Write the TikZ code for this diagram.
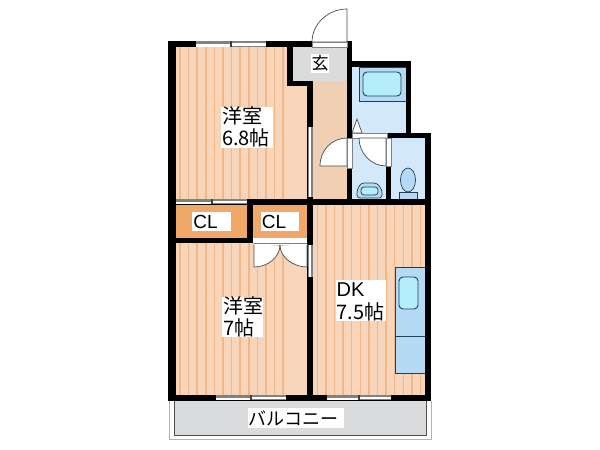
\documentclass[tikz,border=0pt]{standalone}
\usepackage{fontspec}
\setmainfont{Liberation Sans}
\newfontfamily\jpfont{Noto Sans CJK JP}
\definecolor{floorc}{HTML}{F6D5BA}
\definecolor{stripec}{HTML}{F4B685}
\definecolor{hallc}{HTML}{F0CFB2}
\definecolor{closetc}{HTML}{EFA868}
\definecolor{grayc}{HTML}{DADBDD}
\definecolor{bluec}{HTML}{D3E9FA}
\definecolor{tubc}{HTML}{B5DAF5}
\definecolor{cyanc}{HTML}{B5EEFB}
\definecolor{edgec}{HTML}{1F3F55}
\definecolor{sillc}{HTML}{7F8285}
\tikzset{
  wall/.style={fill=black,draw=none},
  fixture/.style={draw=edgec,line width=0.9pt},
  leaf/.style={fill=white,draw=black!70,line width=0.7pt},
  sill/.style={fill=white,draw=sillc,line width=0.8pt},
  labelbox/.style={fill=white,draw=none,inner sep=0pt},
  txt/.style={font=\fontsize{20}{20}\selectfont\jpfont,inner sep=0pt,anchor=west},
  txtsm/.style={font=\fontsize{19}{19}\selectfont,inner sep=0pt}
}
\newcommand{\winh}[4]{% x1 x2 y1 y2
  \fill[sillc] (#1,#3) rectangle (#2,#4);
  \pgfmathsetmacro{\xm}{(#1+#2)/2}
  \fill[white] (#1,#3+3) rectangle (\xm-1,#4);
  \fill[white] (\xm+1,#3+1.5) rectangle (#2,#4-1.5);
  \fill[black!75] (\xm-1,#3) rectangle (\xm+1,#4);
}
\newcommand{\winv}[4]{% x1 x2 y1 y2
  \fill[sillc] (#1,#3) rectangle (#2,#4);
  \fill[white] (#1+1.2,#3) rectangle (#2-1.8,#4);
}
\begin{document}
\begin{tikzpicture}[x=1pt,y=-1pt]
\useasboundingbox (0,0) rectangle (600,450);
\fill[white] (0,0) rectangle (600,450);
% floors
\begin{scope}
  \clip (176,47) -- (287,47) -- (287,86) -- (307,86) -- (307,200) -- (176,200) -- cycle;
  \fill[floorc] (170,40) rectangle (310,205);
  \foreach \k in {0,...,12} \draw[stripec,line width=1.5pt] ({180+8.6*\k},40) -- ++(0,170);
\end{scope}
\begin{scope}
  \clip (176,243) rectangle (307,395);
  \fill[floorc] (170,240) rectangle (310,400);
  \foreach \k in {0,...,12} \draw[stripec,line width=1.5pt] ({180+8.6*\k},240) -- ++(0,160);
\end{scope}
\begin{scope}
  \clip (313,204) rectangle (425,395);
  \fill[floorc] (310,200) rectangle (430,400);
  \foreach \k in {0,...,12} \draw[stripec,line width=1.5pt] ({317.3+8.6*\k},200) -- ++(0,200);
\end{scope}
\fill[hallc] (313,81) rectangle (347,199);
\fill[grayc] (293,47) rectangle (347,81);
\fill[closetc] (175,204) rectangle (247,238);
\fill[closetc] (253,204) rectangle (307,238);
\fill[bluec] (352,67) rectangle (406,133);
\fill[bluec] (352,138) rectangle (386,199);
\fill[bluec] (391,138) rectangle (425,199);
% balcony
\fill[white] (169,401) rectangle (431,439);
\draw[sillc!60,line width=0.8pt] (169,401) -- (169,439) -- (431,439) -- (431,401);
\filldraw[fill=grayc,draw=black!70,line width=0.8pt] (174,400) -- (174,435) -- (426,435) -- (426,400);
% bath fixtures
\fill[tubc,draw=edgec,line width=0.7pt] (359,67) rectangle (406,101);
\draw[fixture,fill=cyanc,rounded corners=4pt] (363,72) rectangle (401,96);
\draw[fixture,fill=tubc,line width=0.7pt,rounded corners=3pt] (357,198) -- (357,190) -- (361,183) -- (377,183) -- (382,190) -- (382,198) -- cycle;
\draw[fixture,fill=cyanc,line width=0.7pt,rounded corners=3pt] (361,187) rectangle (378,195);
\draw[fixture,fill=tubc,line width=0.7pt] (408,180) ellipse [x radius=7.5,y radius=12];
\draw[fixture,fill=tubc,line width=0.7pt] (399,192) rectangle (417,199);
% kitchen
\filldraw[fill=tubc,draw=edgec,line width=0.9pt] (395,267) rectangle (425,373);
\draw[edgec,line width=0.9pt] (395,336) -- (425,336);
\draw[fixture,fill=cyanc,rounded corners=4pt] (399,277) rectangle (418,309);
% walls
\fill[wall] (168,41) rectangle (352,47);
\fill[wall] (168,41) rectangle (176,401);
\fill[wall] (168,395) rectangle (431,401);
\fill[wall] (425,133) rectangle (431,401);
\fill[wall] (287,47) rectangle (293,86);
\fill[wall] (287,81) rectangle (313,86);
\fill[wall] (307,81) rectangle (313,395);
\fill[wall] (168,199) rectangle (431,204.5);
\fill[wall] (168,238) rectangle (253,243);
\fill[wall] (247,199) rectangle (253,243);
\fill[wall] (347,41) rectangle (352,199);
\fill[wall] (347,61) rectangle (411,67);
\fill[wall] (406,61) rectangle (411,138);
\fill[wall] (347,133) rectangle (431,138);
\fill[wall] (386,133) rectangle (391,199);
% windows
\winh{196}{266}{41}{47}
\winh{216}{286}{395}{400}
\winh{327}{391}{395}{400}
\winh{176}{247}{199}{204}
\winv{307.5}{312.5}{127}{197}
\winv{307.5}{312.5}{245}{277}
% entrance door
\filldraw[leaf] (347,42) -- (347,9) .. controls (328,9) and (312,24) .. (312,42) -- cycle;
\filldraw[sill] (312,42) rectangle (347,47);
% hall to wash door
\filldraw[leaf] (347,138) .. controls (332,138) and (320,150) .. (320,166) -- (347,166) -- cycle;
\filldraw[sill] (347,138) rectangle (352,168);
% bath folding door
\filldraw[leaf] (352,133) -- (357,119) -- (362,133) -- cycle;
\filldraw[sill] (352,133) rectangle (387,138);
% toilet/wash door
\filldraw[leaf] (386,138) -- (359,138) .. controls (359,153) and (371,166) .. (386,166) -- cycle;
\filldraw[sill] (386,138) rectangle (391,166);
% closet double doors
\filldraw[leaf] (254,244) -- (254,267) .. controls (268,267) and (280,257) .. (280,245) -- cycle;
\filldraw[leaf] (307,244) -- (307,267) .. controls (293,267) and (280,257) .. (280,245) -- cycle;
\fill[white] (254,243) rectangle (307,245);
\draw[sillc,line width=0.7pt] (254,243.5) -- (307,243.5);
% labels
\node[labelbox,minimum width=52pt,minimum height=41pt] (r1) at (247,127.5) {};
\node[txt] (r1a) at (222,116) {洋室};
\node[txt] (r1b) at (222,138) {6.8帖};
\node[labelbox,minimum width=41pt,minimum height=40pt] (r2) at (242.5,317) {};
\node[txt] (r2a) at (223,306) {洋室};
\node[txt] (r2b) at (223,328) {7帖};
\node[labelbox,minimum width=50pt,minimum height=41pt] (r3) at (361,300.5) {};
\node[txt,font=\fontsize{20}{20}\selectfont] (r3a) at (336.5,290) {DK};
\node[txt] (r3b) at (336.5,312) {7.5帖};
\node[labelbox,minimum width=39pt,minimum height=19pt,txtsm] (cl1) at (211.5,221.5) {CL\kern12pt};
\node[labelbox,minimum width=38pt,minimum height=19pt,txtsm] (cl2) at (280,221.5) {CL\kern12pt};
\node[labelbox,minimum width=18pt,minimum height=19pt,font=\fontsize{17}{17}\selectfont\jpfont] (gen) at (320,63.5) {玄};
\node[labelbox,minimum width=96pt,minimum height=20pt,font=\fontsize{18}{18}\selectfont\jpfont] (bal) at (296,418) {バルコニー\kern5pt};
\end{tikzpicture}
\end{document}
